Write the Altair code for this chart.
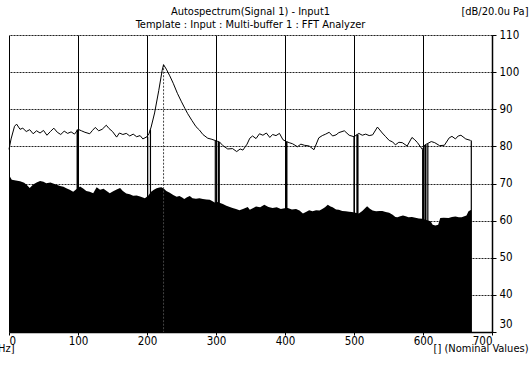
import altair as alt
import pandas as pd

# Upper trace: averaged autospectrum level (dB re 20 uPa) vs frequency (Hz)
trace_hz = [0, 3, 8, 11, 16, 20, 25, 30, 35, 40, 45, 50, 55, 60, 65, 70, 75, 80, 85, 90,
            95, 100, 105, 110, 117, 121, 125, 130, 135, 141, 145, 150, 156, 160, 165, 170,
            175, 180, 185, 190, 194, 200, 203, 206, 211, 217, 222, 224, 228, 233, 238, 244,
            250, 255, 259, 265, 271, 276, 281, 288, 294, 300, 305, 310, 317, 324, 330, 335,
            339, 345, 349, 353, 358, 363, 368, 373, 378, 382, 387, 392, 397, 402, 406, 411,
            418, 423, 428, 435, 442, 449, 454, 459, 464, 469, 474, 478, 486, 493, 500, 507,
            512, 517, 522, 527, 534, 541, 546, 551, 556, 560, 565, 570, 577, 584, 588, 592,
            599, 603, 607, 612, 617, 624, 631, 638, 642, 647, 651, 655, 662, 669]
trace_db = [79.2, 82.0, 85.4, 86.0, 84.6, 84.9, 84.0, 84.5, 83.4, 84.2, 83.6, 84.3, 83.0, 84.0,
            84.9, 83.8, 83.2, 84.1, 83.5, 83.9, 83.3, 84.6, 84.2, 83.8, 83.4, 84.3, 85.1, 84.2,
            84.6, 85.7, 84.8, 84.0, 82.5, 83.6, 83.2, 83.5, 82.8, 83.3, 82.6, 82.9, 82.0, 82.6,
            83.5, 85.2, 89.0, 95.0, 100.5, 102.0, 100.8, 99.0, 97.0, 94.3, 92.0, 90.2, 88.8,
            87.0, 85.3, 84.4, 83.2, 82.2, 81.9, 81.5, 81.2, 80.2, 79.3, 79.4, 78.6, 79.3, 79.0,
            80.6, 82.2, 82.8, 82.1, 83.4, 83.0, 83.6, 82.4, 83.2, 82.9, 83.5, 81.8, 81.3, 81.0,
            80.7, 79.9, 80.6, 80.3, 80.1, 79.1, 82.3, 82.9, 83.3, 83.8, 82.8, 83.1, 83.7, 84.2,
            83.0, 82.6, 83.5, 83.0, 83.3, 82.9, 83.1, 85.2, 83.6, 82.6, 81.6, 81.2, 80.4, 81.1,
            81.0, 80.1, 82.4, 81.8, 81.0, 79.2, 80.4, 80.8, 81.3, 81.0, 80.2, 80.3, 82.3, 82.7,
            82.0, 82.8, 83.0, 82.0, 81.6]

# Lower filled spectrum (instantaneous level)
floor_hz = [0, 4, 10, 16, 22, 27, 30, 35, 40, 45, 50, 54, 60, 64, 70, 74, 79, 83, 88, 93, 98,
            103, 108, 112, 117, 122, 127, 132, 137, 142, 146, 151, 156, 161, 165, 170, 175,
            180, 185, 190, 197, 202, 206, 210, 214, 218, 221, 225, 228, 233, 238, 243, 247,
            251, 254, 258, 262, 266, 271, 276, 281, 286, 291, 295, 298, 302, 305, 310, 315,
            320, 324, 329, 334, 340, 346, 349, 354, 358, 364, 370, 376, 382, 388, 394, 399,
            404, 410, 416, 421, 426, 431, 435, 440, 445, 450, 454, 458, 462, 466, 469, 474,
            478, 483, 488, 493, 497, 502, 507, 512, 516, 519, 523, 527, 532, 537, 541, 546,
            551, 556, 560, 563, 567, 571, 575, 579, 584, 589, 594, 599, 605, 611, 614, 618,
            622, 625, 630, 637, 642, 647, 652, 656, 660, 663, 666, 670]
floor_db = [72.3, 71.0, 70.8, 70.6, 70.2, 69.4, 68.8, 69.7, 70.3, 70.7, 70.5, 70.1, 70.3, 70.0,
            69.6, 69.3, 69.1, 68.7, 68.3, 67.8, 68.5, 69.2, 68.6, 68.0, 67.8, 67.4, 69.0, 68.3,
            68.6, 67.9, 67.4, 67.9, 68.4, 68.8, 68.0, 67.3, 67.1, 66.7, 66.8, 66.5, 66.0, 66.8,
            67.8, 68.3, 68.7, 68.9, 69.0, 68.5, 68.0, 67.5, 66.9, 66.4, 66.6, 66.2, 65.8, 66.3,
            66.6, 66.0, 65.9, 66.0, 65.8, 65.7, 65.6, 65.2, 64.9, 65.0, 64.8, 64.5, 64.0, 63.7,
            63.4, 63.1, 62.8, 63.2, 63.7, 62.9, 63.4, 63.8, 63.6, 64.3, 63.7, 63.4, 63.6, 63.1,
            63.3, 63.4, 63.0, 63.1, 62.7, 61.9, 62.4, 62.8, 62.5, 62.8, 62.7, 63.1, 63.6, 64.3,
            63.8, 63.6, 63.0, 62.9, 62.6, 62.5, 62.4, 62.3, 62.1, 61.9, 62.6, 63.3, 63.9, 63.2,
            62.7, 62.5, 62.6, 62.6, 62.3, 62.1, 61.6, 61.0, 60.9, 61.2, 61.4, 61.2, 60.9, 61.0,
            60.8, 60.6, 60.5, 60.2, 59.8, 58.9, 58.7, 58.9, 60.7, 60.8, 60.7, 61.0, 61.1, 60.9,
            60.9, 61.2, 61.4, 62.5, 62.9]

# Mains-hum harmonics reaching up to the trace
wide_hz = [99.5, 304, 402, 505, 603.5]
wide_db = [84.5, 81.2, 81.3, 83.2, 80.4]
thin_hz = [201, 205, 299, 500, 599.5, 607, 670]
thin_db = [82.6, 84.5, 81.5, 82.6, 79.2, 80.8, 81.6]

# Peak cursor
cursor_hz = [224]
cursor_db = [102.0]

x_ticks = [0, 100, 200, 300, 400, 500, 600, 700]
y_ticks = [30, 40, 50, 60, 70, 80, 90, 100, 110]

FONT = "Liberation Sans Narrow, DejaVu Sans Condensed, sans-serif"

trace = pd.DataFrame({"hz": trace_hz, "db": trace_db})
floor = pd.DataFrame({"hz": floor_hz, "db": floor_db})
wide = pd.DataFrame({"hz": wide_hz, "db": wide_db})
thin = pd.DataFrame({"hz": thin_hz, "db": thin_db})
cursor = pd.DataFrame({"hz": cursor_hz, "db": cursor_db})

x_scale = alt.Scale(domain=[0, 700], nice=False, zero=False)
y_scale = alt.Scale(domain=[30, 110], nice=False, zero=False)

x_main_axis = alt.Axis(
    orient="bottom", values=x_ticks, grid=True, gridColor="black", gridWidth=1,
    tickSize=3, tickColor="black", domainColor="black", domainWidth=1.5,
    labelFont=FONT, labelFontSize=11.5, labelColor="black", labelPadding=0,
    title="[] (Nominal Values)", titleFont=FONT, titleFontSize=11,
    titleFontWeight="normal", titleColor="black",
    titleX=519, titleY=16, titleAlign="right", titleBaseline="middle",
)
x_unit_axis = alt.Axis(
    orient="bottom", labels=False, ticks=False, domain=False, grid=False,
    title="[Hz]", titleFont=FONT, titleFontSize=11, titleFontWeight="normal",
    titleColor="black", titleX=5, titleY=16, titleAlign="right", titleBaseline="middle",
)
y_axis = alt.Axis(
    orient="right", values=y_ticks, grid=True, gridColor="#222222", gridWidth=1,
    gridDash=[2, 1], tickSize=4, tickColor="black", domainColor="black", domainWidth=1.5,
    labelFont=FONT, labelFontSize=11.5, labelColor="black", labelPadding=3, labelAlign="left",
    labelOffset={"condition": {"test": "datum.value == 30", "value": -8}, "value": 0},
    title="[dB/20.0u Pa]", titleFont=FONT, titleFontSize=11, titleFontWeight="normal",
    titleColor="black", titleAngle=0, titleX=36, titleY=-24,
    titleAlign="right", titleBaseline="middle",
)

y_enc = alt.Y("db:Q", scale=y_scale, axis=y_axis)

area = alt.Chart(floor).mark_area(color="black", opacity=1).encode(
    x=alt.X("hz:Q", scale=x_scale, axis=x_main_axis),
    y=y_enc,
    y2=alt.Y2(datum=30),
)

wide_rules = alt.Chart(wide).mark_rule(color="black", strokeWidth=2.2).encode(
    x=alt.X("hz:Q", scale=x_scale, axis=None),
    y=y_enc,
    y2=alt.Y2(datum=30),
)

thin_rules = alt.Chart(thin).mark_rule(color="black", strokeWidth=1.2).encode(
    x=alt.X("hz:Q", scale=x_scale, axis=x_unit_axis),
    y=y_enc,
    y2=alt.Y2(datum=30),
)

cursor_rule = alt.Chart(cursor).mark_rule(color="#444444", strokeWidth=1, strokeDash=[2, 1.5]).encode(
    x=alt.X("hz:Q", scale=x_scale, axis=None),
    y=y_enc,
    y2=alt.Y2(datum=30),
)

line = alt.Chart(trace).mark_line(color="black", strokeWidth=1).encode(
    x=alt.X("hz:Q", scale=x_scale, axis=None),
    y=y_enc,
)

chart = (
    alt.layer(area, wide_rules, thin_rules, cursor_rule, line)
    .resolve_axis(x="independent")
    .properties(
        width=483,
        height=297,
        autosize=alt.AutoSizeParams(type="none"),
        padding={"left": 9, "top": 35, "right": 38, "bottom": 34},
        title=alt.TitleParams(
            text=["Autospectrum(Signal 1) - Input1",
                  "Template : Input : Multi-buffer 1 : FFT Analyzer"],
            font=FONT, fontSize=11, fontWeight="normal", color="black",
            anchor="middle", frame="group", lineHeight=13, offset=4, dy=29,
        ),
    )
    .configure_view(stroke=None)
    .configure(background="white")
)

chart.save("out.html", embed_options={"renderer": "svg", "actions": False})
